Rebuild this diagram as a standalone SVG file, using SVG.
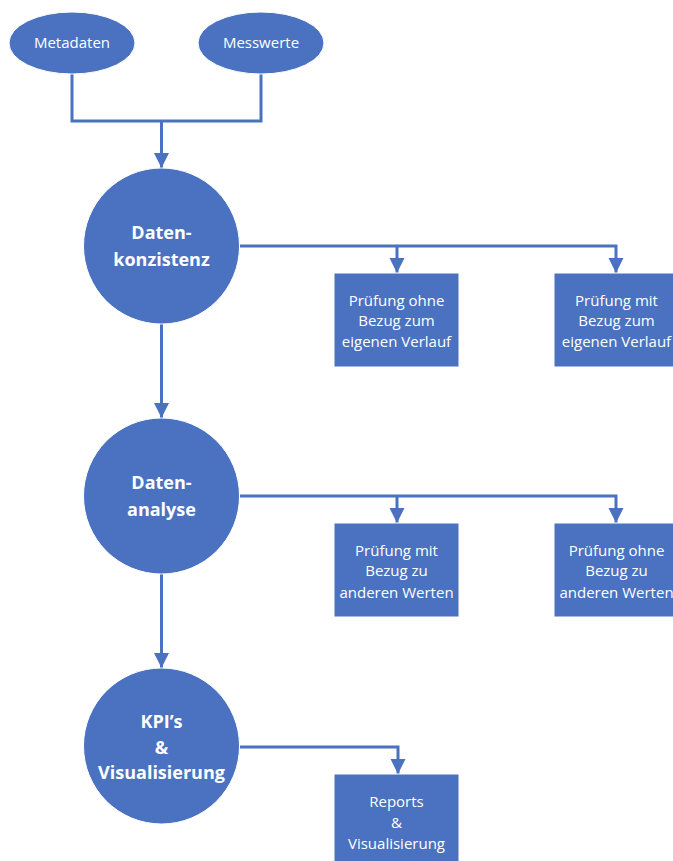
<svg xmlns="http://www.w3.org/2000/svg" width="673" height="861" viewBox="0 0 673 861">
<defs>
<style>
.n{fill:#4a72c0;stroke:#ffffff;stroke-width:1}
.c{fill:none;stroke:#4a72c0;stroke-width:3}
.t{font-family:"Open Sans","Liberation Sans",sans-serif;fill:#ffffff;text-anchor:middle;font-size:15px}
.b{font-family:"Open Sans","Liberation Sans",sans-serif;fill:#ffffff;text-anchor:middle;font-size:18px;font-weight:bold}
</style>
<marker id="ah" viewBox="0 0 10 10" refX="10" refY="5" markerWidth="5" markerHeight="5.3" orient="auto" markerUnits="strokeWidth">
<path d="M0,0 L10,5 L0,10 z" fill="#4a72c0"/>
</marker>
</defs>
<rect width="673" height="861" fill="#ffffff"/>
<g id="connectors">
<path class="c" d="M72,74 V121 H261 V74"/>
<path class="c" d="M161.5,121 V168" marker-end="url(#ah)"/>
<path class="c" d="M161.5,324 V418" marker-end="url(#ah)"/>
<path class="c" d="M161.5,574 V668" marker-end="url(#ah)"/>
<path class="c" d="M240,246 H616 V273" marker-end="url(#ah)"/>
<path class="c" d="M397,246 V273" marker-end="url(#ah)"/>
<path class="c" d="M240,496 H616 V523" marker-end="url(#ah)"/>
<path class="c" d="M397,496 V523" marker-end="url(#ah)"/>
<path class="c" d="M240,747 H398 V774" marker-end="url(#ah)"/>
</g>
<g id="metadaten">
<ellipse class="n" cx="72" cy="43" rx="63" ry="31"/>
<text class="t" x="72" y="48">Metadaten</text>
</g>
<g id="messwerte">
<ellipse class="n" cx="261" cy="43" rx="63" ry="31"/>
<text class="t" x="261" y="48">Messwerte</text>
</g>
<g id="datenkonsistenz">
<circle class="n" cx="161.5" cy="246" r="78"/>
<text class="b" x="161.5" y="239">Daten-</text>
<text class="b" x="161.5" y="266">konzistenz</text>
</g>
<g id="pruefung1">
<rect class="n" x="334" y="273" width="125" height="94"/>
<text class="t" x="396.5" y="306">Prüfung ohne</text>
<text class="t" x="396.5" y="326">Bezug zum</text>
<text class="t" x="396.5" y="347">eigenen Verlauf</text>
</g>
<g id="pruefung2">
<rect class="n" x="554" y="273" width="125" height="94"/>
<text class="t" x="616.5" y="306">Prüfung mit</text>
<text class="t" x="616.5" y="326">Bezug zum</text>
<text class="t" x="616.5" y="347">eigenen Verlauf</text>
</g>
<g id="datenanalyse">
<circle class="n" cx="161.5" cy="496" r="78"/>
<text class="b" x="161.5" y="489">Daten-</text>
<text class="b" x="161.5" y="516">analyse</text>
</g>
<g id="pruefung3">
<rect class="n" x="334" y="523" width="125" height="94"/>
<text class="t" x="396.5" y="556">Prüfung mit</text>
<text class="t" x="396.5" y="576">Bezug zu</text>
<text class="t" x="396.5" y="598">anderen Werten</text>
</g>
<g id="pruefung4">
<rect class="n" x="554" y="523" width="125" height="94"/>
<text class="t" x="616.5" y="556">Prüfung ohne</text>
<text class="t" x="616.5" y="576">Bezug zu</text>
<text class="t" x="616.5" y="598">anderen Werten</text>
</g>
<g id="kpis">
<circle class="n" cx="161.5" cy="746" r="78"/>
<text class="b" x="161.5" y="728">KPI’s</text>
<text class="b" x="161.5" y="754">&amp;</text>
<text class="b" x="161.5" y="779">Visualisierung</text>
</g>
<g id="reports">
<rect class="n" x="334" y="774" width="125" height="94"/>
<text class="t" x="396.5" y="807">Reports</text>
<text class="t" x="396.5" y="828">&amp;</text>
<text class="t" x="396.5" y="849">Visualisierung</text>
</g>
</svg>
